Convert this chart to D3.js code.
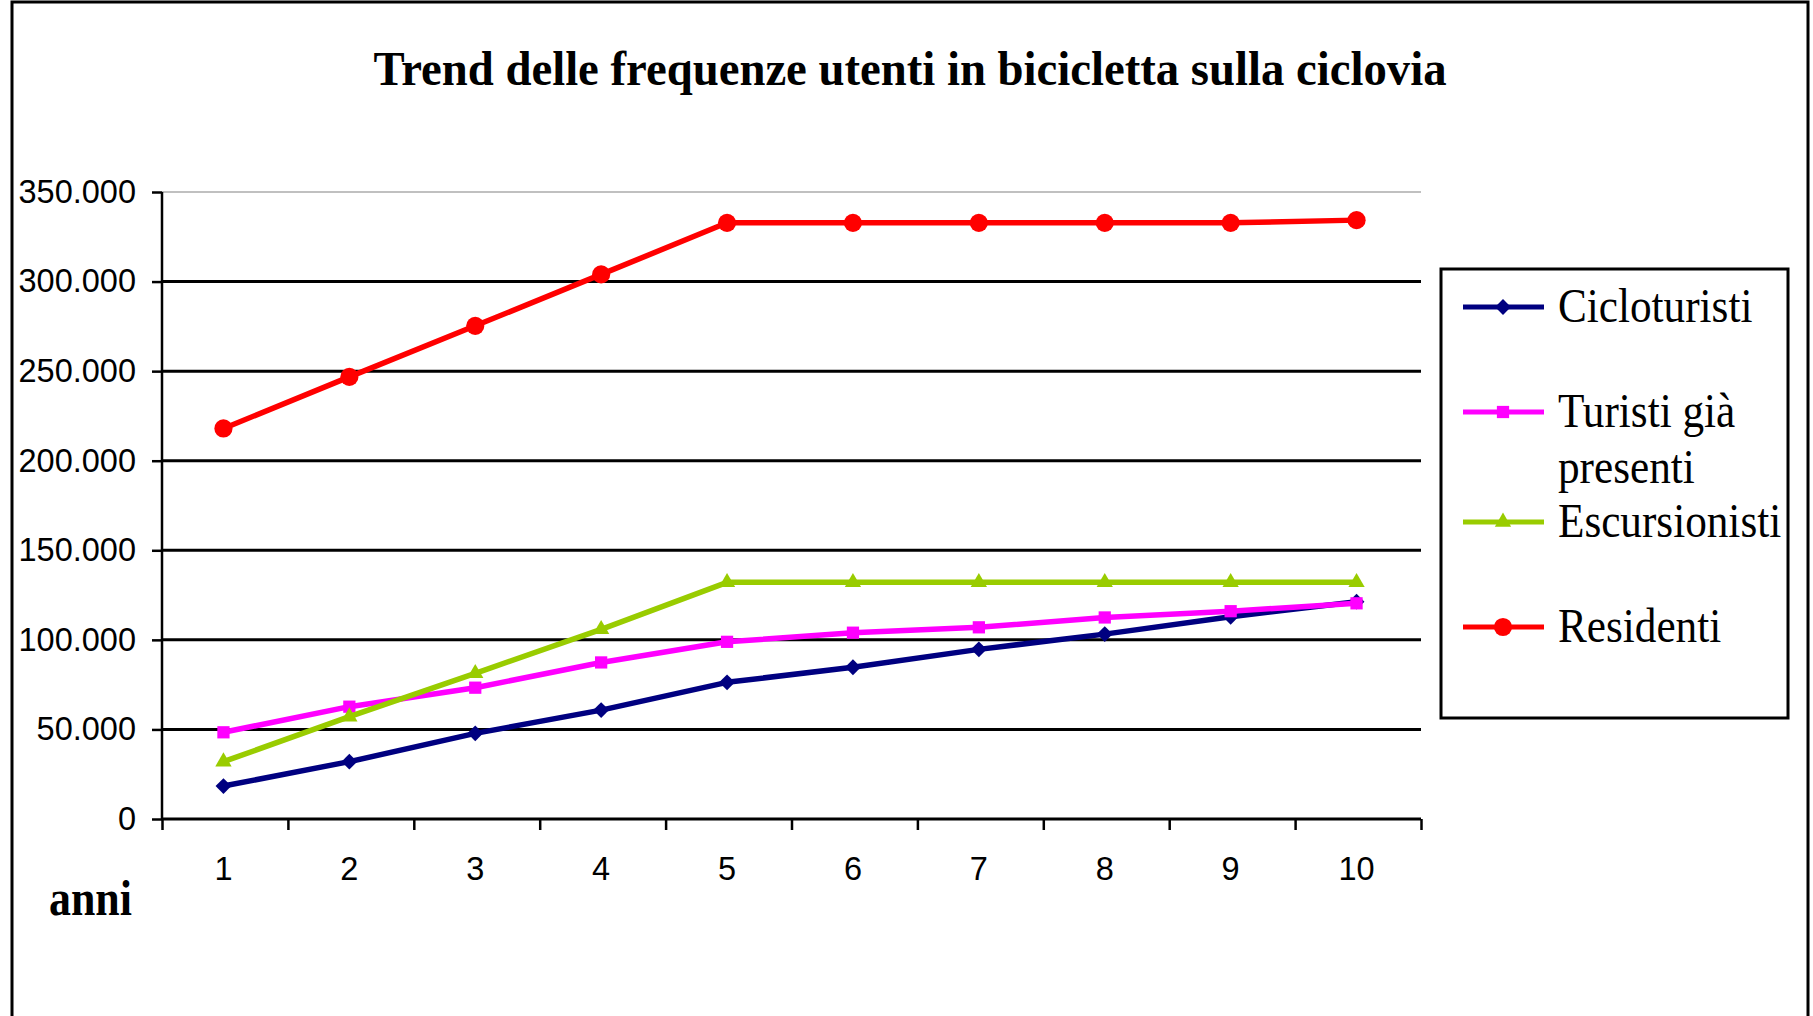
<!DOCTYPE html>
<html>
<head>
<meta charset="utf-8">
<script src="https://cdn.jsdelivr.net/npm/d3@7"></script>
<style>
  html, body { margin: 0; padding: 0; background: #fff; }
  svg { display: block; }
</style>
</head>
<body>
<svg id="chart"></svg>
<script>
// anni
const years = [1, 2, 3, 4, 5, 6, 7, 8, 9, 10];

// frequenze per categoria
const cicloturisti  = [18400, 32000, 47800, 60800, 76300, 84700, 94700, 103200, 112900, 121300];
const turistiGia    = [48400, 62700, 73300, 87400, 98900, 104000, 107000, 112500, 116000, 120400];
const escursionisti = [32000, 57100, 81300, 105900, 132100, 132100, 132100, 132100, 132100, 132100];
const residenti     = [218000, 246800, 275300, 304000, 332800, 332800, 332800, 332800, 332800, 334300];

const yTicks = [0, 50000, 100000, 150000, 200000, 250000, 300000, 350000];

const seriesNames  = ["Cicloturisti", "Turisti già presenti", "Escursionisti", "Residenti"];
const seriesValues = [cicloturisti, turistiGia, escursionisti, residenti];
const seriesColors = ["#000080", "#ff00ff", "#99cc00", "#ff0000"];

const W = 1813, H = 1016;
const svg = d3.select("#chart").attr("width", W).attr("height", H);

const it = d3.formatLocale({ decimal: ",", thousands: ".", grouping: [3], currency: ["€", ""] });
const fmt = it.format(",d");

// plot area
const plot = { left: 162, right: 1421, top: 192, bottom: 819 };

const x = d3.scaleLinear().domain([0.5, 10.5]).range([plot.left, plot.right]);
const y = d3.scaleLinear().domain([0, 350000]).range([plot.bottom, plot.top]);

// outer frame
svg.append("rect")
  .attr("x", 12).attr("y", 2)
  .attr("width", 1796).attr("height", H + 20)
  .attr("fill", "#fff").attr("stroke", "#000").attr("stroke-width", 3);

// title
svg.append("text")
  .attr("x", 910).attr("y", 85)
  .attr("text-anchor", "middle")
  .attr("font-family", "'Liberation Serif', 'Times New Roman', serif")
  .attr("font-weight", "bold")
  .attr("font-size", 48)
  .attr("textLength", 1073)
  .attr("lengthAdjust", "spacingAndGlyphs")
  .text("Trend delle frequenze utenti in bicicletta sulla ciclovia");

// gridlines
svg.append("g")
  .selectAll("line")
  .data(yTicks.filter(d => d > 0))
  .join("line")
  .attr("x1", plot.left).attr("x2", plot.right)
  .attr("y1", d => y(d)).attr("y2", d => y(d))
  .attr("stroke", d => d === 350000 ? "#c0c0c0" : "#000")
  .attr("stroke-width", d => d === 350000 ? 2 : 3);

// y axis
const yAxis = svg.append("g")
  .attr("transform", `translate(${plot.left},0)`)
  .call(d3.axisLeft(y).tickValues(yTicks).tickFormat(fmt).tickSize(10).tickPadding(16));
yAxis.select(".domain").attr("stroke", "#000").attr("stroke-width", 2.5).attr("d", `M0,${plot.top}V${plot.bottom}`);
yAxis.selectAll(".tick line").attr("stroke", "#000").attr("stroke-width", 2.5);
yAxis.selectAll("text")
  .attr("font-family", "'Liberation Sans', Arial, sans-serif")
  .attr("font-size", 32.5).attr("fill", "#000");

// x axis: ticks at category boundaries
const xAxis = svg.append("g")
  .attr("transform", `translate(0,${plot.bottom})`)
  .call(d3.axisBottom(x).tickValues(d3.range(0.5, 11, 1)).tickFormat("").tickSize(11));
xAxis.select(".domain").attr("stroke", "#000").attr("stroke-width", 3).attr("d", `M${plot.left},0H${plot.right}`);
xAxis.selectAll(".tick line").attr("stroke", "#000").attr("stroke-width", 2.5);

// x labels
const xLab = svg.append("g")
  .attr("transform", `translate(-2,${plot.bottom})`)
  .call(d3.axisBottom(x).tickValues(years).tickFormat(d3.format("d")).tickSize(0).tickPadding(38));
xLab.select(".domain").remove();
xLab.selectAll("text")
  .attr("font-family", "'Liberation Sans', Arial, sans-serif")
  .attr("font-size", 32.5).attr("fill", "#000");

// x axis title
svg.append("text")
  .attr("x", 49).attr("y", 915)
  .attr("font-family", "'Liberation Serif', 'Times New Roman', serif")
  .attr("font-weight", "bold")
  .attr("font-size", 50)
  .attr("textLength", 83)
  .attr("lengthAdjust", "spacingAndGlyphs")
  .text("anni");

// markers
const markers = [
  d3.symbol().type(d3.symbolSquare).size(125),
  d3.symbol().type(d3.symbolSquare).size(150),
  d3.symbol().type(d3.symbolTriangle).size(115),
  d3.symbol().type(d3.symbolCircle).size(260)
];
const markerRotate = [45, 0, 0, 0];

const line = d3.line().x((d, i) => x(years[i]) - 1.5).y(d => y(d));

seriesValues.forEach((vals, s) => {
  const g = svg.append("g");
  g.append("path")
    .attr("d", line(vals))
    .attr("fill", "none")
    .attr("stroke", seriesColors[s])
    .attr("stroke-width", 5.5)
    .attr("stroke-linejoin", "round");
  g.selectAll("path.pt")
    .data(vals)
    .join("path")
    .attr("class", "pt")
    .attr("d", markers[s])
    .attr("transform", (d, i) => `translate(${x(years[i]) - 1.5},${y(d)}) rotate(${markerRotate[s]})`)
    .attr("fill", seriesColors[s]);
});

// legend
svg.append("rect")
  .attr("x", 1441).attr("y", 269)
  .attr("width", 347).attr("height", 449)
  .attr("fill", "#fff").attr("stroke", "#000").attr("stroke-width", 3);

const legendLineY = [307, 412, 522, 627];
const legendLines = [["Cicloturisti"], ["Turisti già", "presenti"], ["Escursionisti"], ["Residenti"]];

const leg = svg.append("g");
seriesNames.forEach((name, s) => {
  const ly = legendLineY[s];
  leg.append("line")
    .attr("x1", 1463).attr("x2", 1544)
    .attr("y1", ly).attr("y2", ly)
    .attr("stroke", seriesColors[s]).attr("stroke-width", 5);
  leg.append("path")
    .attr("d", markers[s])
    .attr("transform", `translate(1503,${ly}) rotate(${markerRotate[s]})`)
    .attr("fill", seriesColors[s]);
  legendLines[s].forEach((t, k) => {
    const txt = leg.append("text")
      .attr("x", 1558).attr("y", ly + 15 + k * 56)
      .attr("font-family", "'Liberation Serif', 'Times New Roman', serif")
      .attr("font-size", 48)
      .attr("fill", "#000")
      .text(t);
    const w = txt.node().getComputedTextLength();
    txt.attr("textLength", w * 0.9).attr("lengthAdjust", "spacingAndGlyphs");
  });
});
</script>
</body>
</html>
